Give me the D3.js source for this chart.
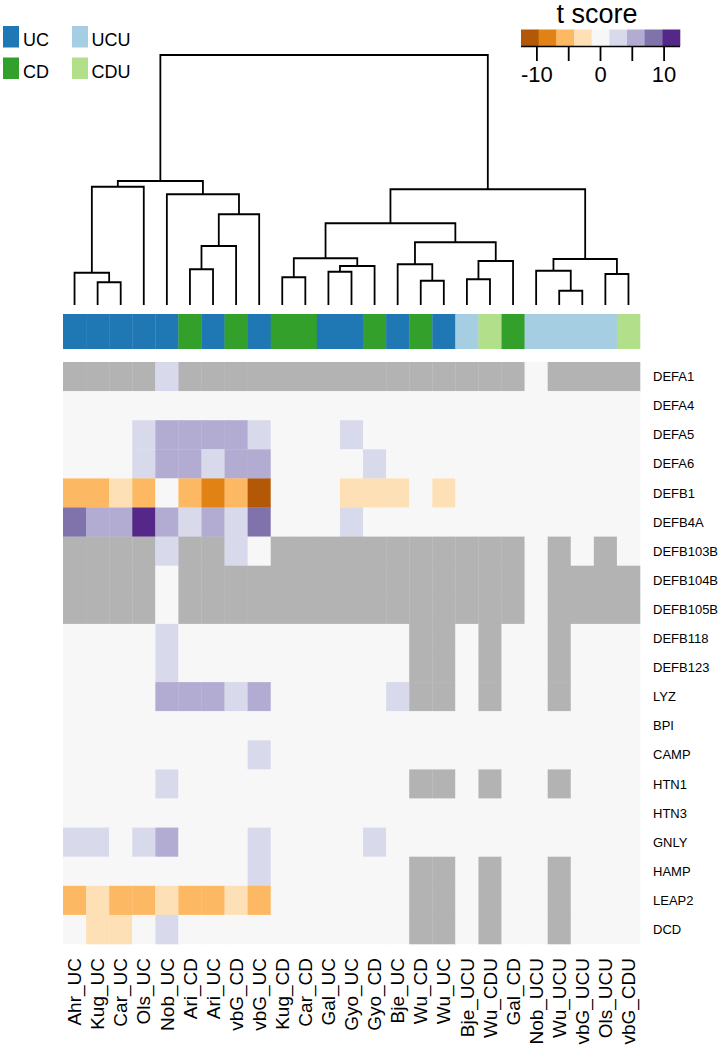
<!DOCTYPE html>
<html>
<head>
<meta charset="utf-8">
<script src="https://cdn.jsdelivr.net/npm/d3@7"></script>
<style>
  body { margin: 0; background: #fff; }
  svg { display: block; font-family: "Liberation Sans", Arial, Helvetica, sans-serif; }
</style>
</head>
<body>
<svg width="726" height="1050"></svg>
<script>
// samples (columns), in dendrogram order
const samples = ["Ahr_UC", "Kug_UC", "Car_UC", "Ols_UC", "Nob_UC", "Ari_CD", "Ari_UC", "vbG_CD", "vbG_UC",
  "Kug_CD", "Car_CD", "Gal_UC", "Gyo_UC", "Gyo_CD", "Bje_UC", "Wu_CD", "Wu_UC", "Bje_UCU", "Wu_CDU",
  "Gal_CD", "Nob_UCU", "Wu_UCU", "vbG_UCU", "Ols_UCU", "vbG_CDU"];
const groups = ["UC", "UC", "UC", "UC", "UC", "CD", "UC", "CD", "UC", "CD", "CD", "UC", "UC", "CD", "UC",
  "CD", "UC", "UCU", "CDU", "CD", "UCU", "UCU", "UCU", "UCU", "CDU"];
const groupNames = ["UC", "CD", "UCU", "CDU"];

const genes = ["DEFA1", "DEFA4", "DEFA5", "DEFA6", "DEFB1", "DEFB4A", "DEFB103B", "DEFB104B", "DEFB105B",
  "DEFB118", "DEFB123", "LYZ", "BPI", "CAMP", "HTN1", "HTN3", "GNLY", "HAMP", "LEAP2", "DCD"];

// t scores, one row per gene (null = not measured)
const N = null;
const DEFA1    = [N, N, N, N, 2.6, N, N, N, N, N, N, N, N, N, N, N, N, N, N, N, 0, N, N, N, N];
const DEFA4    = [0, 0, 0, 0, 0, 0, 0, 0, 0, 0, 0, 0, 0, 0, 0, 0, 0, 0, 0, 0, 0, 0, 0, 0, 0];
const DEFA5    = [0, 0, 0, 2.6, 5.4, 5.4, 5.4, 5.4, 2.6, 0, 0, 0, 2.6, 0, 0, 0, 0, 0, 0, 0, 0, 0, 0, 0, 0];
const DEFA6    = [0, 0, 0, 2.6, 5.4, 5.4, 2.6, 5.4, 5.4, 0, 0, 0, 0, 2.6, 0, 0, 0, 0, 0, 0, 0, 0, 0, 0, 0];
const DEFB1    = [-5.6, -5.6, -2.9, -5.6, 0, -5.6, -8.2, -5.6, -10.8, 0, 0, 0, -2.9, -2.9, -2.9, 0, -2.9, 0, 0, 0, 0, 0, 0, 0, 0];
const DEFB4A   = [8.1, 5.4, 5.4, 11.2, 5.4, 2.6, 5.4, 2.6, 8.1, 0, 0, 0, 2.6, 0, 0, 0, 0, 0, 0, 0, 0, 0, 0, 0, 0];
const DEFB103B = [N, N, N, N, 2.6, N, N, 2.6, 0, N, N, N, N, N, N, N, N, N, N, N, 0, N, 0, N, 0];
const DEFB104B = [N, N, N, N, 0, N, N, N, N, N, N, N, N, N, N, N, N, N, N, N, 0, N, N, N, N];
const DEFB105B = [N, N, N, N, 0, N, N, N, N, N, N, N, N, N, N, N, N, N, N, N, 0, N, N, N, N];
const DEFB118  = [0, 0, 0, 0, 2.6, 0, 0, 0, 0, 0, 0, 0, 0, 0, 0, N, N, 0, N, 0, 0, N, 0, 0, 0];
const DEFB123  = [0, 0, 0, 0, 2.6, 0, 0, 0, 0, 0, 0, 0, 0, 0, 0, N, N, 0, N, 0, 0, N, 0, 0, 0];
const LYZ      = [0, 0, 0, 0, 5.4, 5.4, 5.4, 2.6, 5.4, 0, 0, 0, 0, 0, 2.6, N, N, 0, N, 0, 0, N, 0, 0, 0];
const BPI      = [0, 0, 0, 0, 0, 0, 0, 0, 0, 0, 0, 0, 0, 0, 0, 0, 0, 0, 0, 0, 0, 0, 0, 0, 0];
const CAMP     = [0, 0, 0, 0, 0, 0, 0, 0, 2.6, 0, 0, 0, 0, 0, 0, 0, 0, 0, 0, 0, 0, 0, 0, 0, 0];
const HTN1     = [0, 0, 0, 0, 2.6, 0, 0, 0, 0, 0, 0, 0, 0, 0, 0, N, N, 0, N, 0, 0, N, 0, 0, 0];
const HTN3     = [0, 0, 0, 0, 0, 0, 0, 0, 0, 0, 0, 0, 0, 0, 0, 0, 0, 0, 0, 0, 0, 0, 0, 0, 0];
const GNLY     = [2.6, 2.6, 0, 2.6, 5.4, 0, 0, 0, 2.6, 0, 0, 0, 0, 2.6, 0, 0, 0, 0, 0, 0, 0, 0, 0, 0, 0];
const HAMP     = [0, 0, 0, 0, 0, 0, 0, 0, 2.6, 0, 0, 0, 0, 0, 0, N, N, 0, N, 0, 0, N, 0, 0, 0];
const LEAP2    = [-5.6, -2.9, -5.6, -5.6, -2.9, -5.6, -5.6, -2.9, -5.6, 0, 0, 0, 0, 0, 0, N, N, 0, N, 0, 0, N, 0, 0, 0];
const DCD      = [0, -2.9, -2.9, 0, 2.6, 0, 0, 0, 0, 0, 0, 0, 0, 0, 0, N, N, 0, N, 0, 0, N, 0, 0, 0];
const tScores = [DEFA1, DEFA4, DEFA5, DEFA6, DEFB1, DEFB4A, DEFB103B, DEFB104B, DEFB105B, DEFB118,
  DEFB123, LYZ, BPI, CAMP, HTN1, HTN3, GNLY, HAMP, LEAP2, DCD];

// column clustering, hclust style: negative = leaf (1-based), positive = earlier merge
const merges = [
  [-2, -3, 0.91], [-1, 1, 1.29], [2, -4, 4.73], [-6, -7, 1.43], [4, -8, 2.36], [5, -9, 3.63],
  [-5, 6, 4.43], [3, 7, 4.96], [-10, -11, 1.11], [-12, -13, 1.33], [10, -14, 1.56], [9, 11, 1.87],
  [-16, -17, 0.97], [-15, 13, 1.63], [-18, -19, 1.03], [15, -20, 1.76], [14, 16, 2.51], [12, 17, 3.27],
  [-22, -23, 0.57], [-21, 19, 1.37], [-24, -25, 1.24], [20, 21, 1.84], [18, 22, 4.63], [8, 23, 10]
];

const legendTicks = [-10, -5, 0, 5, 10];
const legendLabels = [-10, 0, 10];

const svg = d3.select("svg");

var x = d3.scaleBand().domain(samples).range([63, 640]);
var y = d3.scaleBand().domain(genes).range([362, 944]);
// orange for negative, purple for positive
var color = d3.scaleQuantize().domain([-12.5, 12.5]).range(d3.schemePuOr[9].slice().reverse());
var groupColor = d3.scaleOrdinal().domain(groupNames).range(["#1f78b4", "#33a02c", "#a6cee3", "#b2df8a"]);
var naColor = "#b3b3b3";

// heatmap
var cells = [];
genes.forEach((g, i) => {
  samples.forEach((s, j) => cells.push({ gene: g, sample: s, value: tScores[i][j] }));
});

svg
  .append("g")
  .attr("id", "heatmap")
  .selectAll("rect")
  .data(cells)
  .enter()
  .append("rect")
  .attr("x", (d) => x(d.sample))
  .attr("y", (d) => y(d.gene))
  .attr("width", x.bandwidth() + 0.3)
  .attr("height", y.bandwidth() + 0.3)
  .attr("fill", (d) => (d.value === null ? naColor : color(d.value)));

// group annotation bar
svg
  .append("g")
  .attr("id", "annotation")
  .selectAll("rect")
  .data(samples)
  .enter()
  .append("rect")
  .attr("x", (d) => x(d))
  .attr("y", 314)
  .attr("width", x.bandwidth() + 0.3)
  .attr("height", 35)
  .attr("fill", (d, i) => groupColor(groups[i]));

// row labels
svg
  .append("g")
  .selectAll("text")
  .data(genes)
  .enter()
  .append("text")
  .attr("x", 653)
  .attr("y", (d) => y(d) + y.bandwidth() / 2)
  .attr("dy", "0.35em")
  .attr("font-size", 13)
  .text((d) => d);

// column labels
svg
  .append("g")
  .selectAll("text")
  .data(samples)
  .enter()
  .append("text")
  .attr("transform", (d) => `translate(${x(d) + x.bandwidth() / 2},958) rotate(-90)`)
  .attr("text-anchor", "end")
  .attr("dy", "0.35em")
  .attr("font-size", 19)
  .text((d) => d);

// dendrogram
var h = d3.scaleLinear().domain([0, 10]).range([305, 55]);
var nodes = [];
function pos(ref) {
  if (ref < 0) return { x: x(samples[-ref - 1]) + x.bandwidth() / 2, y: h(0) };
  return nodes[ref - 1];
}
var links = merges.map(([a, b, height]) => {
  var A = pos(a), B = pos(b);
  var n = { x: (A.x + B.x) / 2, y: h(height) };
  nodes.push(n);
  return `M${A.x},${A.y}V${n.y}H${B.x}V${B.y}`;
});

svg
  .append("g")
  .attr("id", "dendrogram")
  .selectAll("path")
  .data(links)
  .enter()
  .append("path")
  .attr("d", (d) => d)
  .attr("fill", "none")
  .attr("stroke", "#000")
  .attr("stroke-width", 1.8);

// group legend
var legend = svg.append("g").attr("id", "legend");
legend
  .selectAll("rect")
  .data(groupNames)
  .enter()
  .append("rect")
  .attr("x", (d, i) => (i < 2 ? 3 : 72))
  .attr("y", (d, i) => (i % 2 === 0 ? 26 : 57.5))
  .attr("width", 16)
  .attr("height", 21.5)
  .attr("fill", (d) => groupColor(d));
legend
  .selectAll("text")
  .data(groupNames)
  .enter()
  .append("text")
  .attr("x", (d, i) => (i < 2 ? 23 : 91.5))
  .attr("y", (d, i) => (i % 2 === 0 ? 45.5 : 78))
  .attr("font-size", 18)
  .text((d) => d);

// colour key
var key = svg.append("g").attr("id", "key");
var kx = d3.scaleLinear().domain([-12.5, 12.5]).range([521, 680]);
var bins = color.range().map((c) => ({ c: c, ext: color.invertExtent(c) }));

key
  .selectAll("rect")
  .data(bins)
  .enter()
  .append("rect")
  .attr("x", (d) => kx(d.ext[0]))
  .attr("y", 29.5)
  .attr("width", (d) => kx(d.ext[1]) - kx(d.ext[0]) + 0.3)
  .attr("height", 17)
  .attr("fill", (d) => d.c);

key
  .append("line")
  .attr("x1", kx(-12.5))
  .attr("x2", kx(12.5))
  .attr("y1", 46.5)
  .attr("y2", 46.5)
  .attr("stroke", "#000")
  .attr("stroke-width", 1.5);

key
  .selectAll(".tick")
  .data(legendTicks)
  .enter()
  .append("line")
  .attr("class", "tick")
  .attr("x1", (d) => kx(d))
  .attr("x2", (d) => kx(d))
  .attr("y1", 46.5)
  .attr("y2", 61)
  .attr("stroke", "#000")
  .attr("stroke-width", 1.8);

key
  .selectAll(".lab")
  .data(legendLabels)
  .enter()
  .append("text")
  .attr("class", "lab")
  .attr("x", (d) => kx(d))
  .attr("y", 81.5)
  .attr("text-anchor", "middle")
  .attr("font-size", 22)
  .text((d) => d);

key
  .append("text")
  .attr("x", 597)
  .attr("y", 22.5)
  .attr("text-anchor", "middle")
  .attr("font-size", 27)
  .text("t score");
</script>
</body>
</html>
